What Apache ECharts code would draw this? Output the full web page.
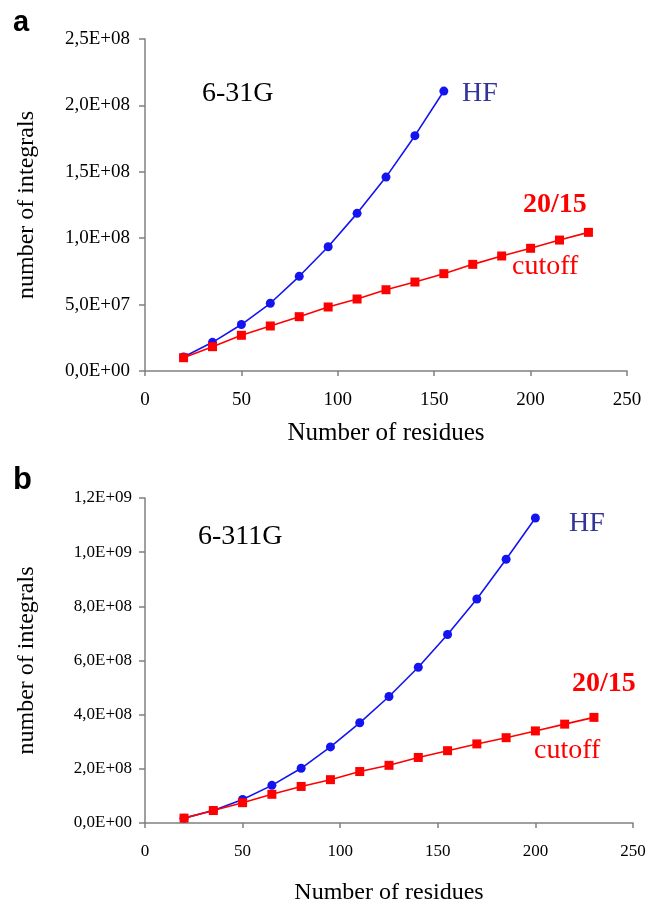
<!DOCTYPE html>
<html>
<head>
<meta charset="utf-8">
<script src="https://cdn.jsdelivr.net/npm/echarts@6/dist/echarts.min.js"></script>
<style>
  html, body { margin: 0; padding: 0; background: #fff; }
  #chart { width: 649px; height: 906px; }
</style>
</head>
<body>
<div id="chart"></div>
<script>
// panel a: 6-31G
const residuesHfA = [20, 35, 50, 65, 80, 95, 110, 125, 140, 155];
const hfA = [1.05e7, 2.16e7, 3.5e7, 5.1e7, 7.13e7, 9.36e7, 1.187e8, 1.46e8, 1.772e8, 2.108e8];
const residuesCut = [20, 35, 50, 65, 80, 95, 110, 125, 140, 155, 170, 185, 200, 215, 230];
const cutoffA = [1.0e7, 1.83e7, 2.69e7, 3.39e7, 4.09e7, 4.82e7, 5.42e7, 6.12e7, 6.7e7, 7.33e7, 8.03e7, 8.66e7, 9.24e7, 9.86e7, 1.044e8];

// panel b: 6-311G
const residuesHfB = [20, 35, 50, 65, 80, 95, 110, 125, 140, 155, 170, 185, 200];
const hfB = [1.8e7, 4.6e7, 8.7e7, 1.39e8, 2.02e8, 2.81e8, 3.7e8, 4.67e8, 5.75e8, 6.96e8, 8.27e8, 9.74e8, 1.126e9];
const cutoffB = [1.8e7, 4.6e7, 7.5e7, 1.06e8, 1.35e8, 1.6e8, 1.9e8, 2.13e8, 2.42e8, 2.67e8, 2.92e8, 3.15e8, 3.4e8, 3.65e8, 3.9e8];

const serif = '"Liberation Serif", "Times New Roman", serif';
const axisGray = '#808080';
const blue = '#1414f0';
const red = '#ff0000';

// 2,5E+08 style labels
function sciLabel(v) {
  const parts = v.toExponential(1).split('e');
  const exp = parseInt(parts[1], 10);
  const sign = exp < 0 ? '-' : '+';
  const e = String(Math.abs(exp)).padStart(2, '0');
  return parts[0].replace('.', ',') + 'E' + sign + e;
}

function pairs(xs, ys) {
  return xs.map((x, i) => [x, ys[i]]);
}

function xAxisFor(gridIndex, fontSize, nameSize, nameGap) {
  return {
    type: 'value', gridIndex: gridIndex, min: 0, max: 250, interval: 50,
    name: 'Number of residues', nameLocation: 'middle', nameGap: nameGap,
    nameTextStyle: { fontFamily: serif, fontSize: nameSize, color: '#000' },
    axisLine: { lineStyle: { color: axisGray, width: 1.5 } },
    axisTick: { show: true, length: 5, lineStyle: { color: axisGray, width: 1.5 } },
    axisLabel: { fontFamily: serif, fontSize: fontSize, color: '#000', margin: 20 },
    splitLine: { show: false }
  };
}

function yAxisFor(gridIndex, max, interval, fontSize, margin) {
  return {
    type: 'value', gridIndex: gridIndex, min: 0, max: max, interval: interval,
    name: 'number of integrals', nameLocation: 'middle', nameGap: 106,
    nameTextStyle: { fontFamily: serif, fontSize: 24, color: '#000' },
    axisLine: { show: true, lineStyle: { color: axisGray, width: 1.5 } },
    axisTick: { show: true, length: 6, lineStyle: { color: axisGray, width: 1.5 } },
    axisLabel: { fontFamily: serif, fontSize: fontSize, color: '#000', margin: margin, formatter: sciLabel },
    splitLine: { show: false }
  };
}

function lineSeries(name, idx, data, color, symbol, size) {
  return {
    name: name, type: 'line', xAxisIndex: idx, yAxisIndex: idx,
    data: data, symbol: symbol, symbolSize: size, showSymbol: true,
    lineStyle: { color: color, width: 1.6 },
    itemStyle: { color: color },
    animation: false
  };
}

function label(text, x, y, color, size, weight, family) {
  return {
    type: 'text', left: x, top: y,
    style: { text: text, fill: color, font: (weight || 'normal') + ' ' + size + 'px ' + (family || serif) }
  };
}

const chart = echarts.init(document.getElementById('chart'));

chart.setOption({
  backgroundColor: '#fff',
  animation: false,
  grid: [
    { left: 145, top: 39, width: 482, height: 332 },
    { left: 145, top: 498, width: 488, height: 329 }
  ],
  xAxis: [xAxisFor(0, 19, 25, 50), xAxisFor(1, 17, 24, 58)],
  yAxis: [yAxisFor(0, 2.5e8, 0.5e8, 19, 15), yAxisFor(1, 1.2e9, 2e8, 17, 13)],
  series: [
    lineSeries('HF', 0, pairs(residuesHfA, hfA), blue, 'circle', 9),
    lineSeries('20/15 cutoff', 0, pairs(residuesCut, cutoffA), red, 'rect', 9),
    lineSeries('HF', 1, pairs(residuesHfB, hfB), blue, 'circle', 9),
    lineSeries('20/15 cutoff', 1, pairs(residuesCut, cutoffB), red, 'rect', 9)
  ],
  graphic: [
    label('a', 13, 8, '#000', 29, 'bold', '"Liberation Sans", Arial, sans-serif'),
    label('6-31G', 202, 80, '#000', 28),
    label('HF', 462, 80, '#333399', 28),
    label('20/15', 523, 191, red, 28, 'bold'),
    label('cutoff', 512, 253, red, 28),
    label('b', 13, 465, '#000', 31, 'bold', '"Liberation Sans", Arial, sans-serif'),
    label('6-311G', 198, 523, '#000', 28),
    label('HF', 569, 510, '#333399', 28),
    label('20/15', 572, 670, red, 28, 'bold'),
    label('cutoff', 534, 737, red, 28)
  ]
});
</script>
</body>
</html>
